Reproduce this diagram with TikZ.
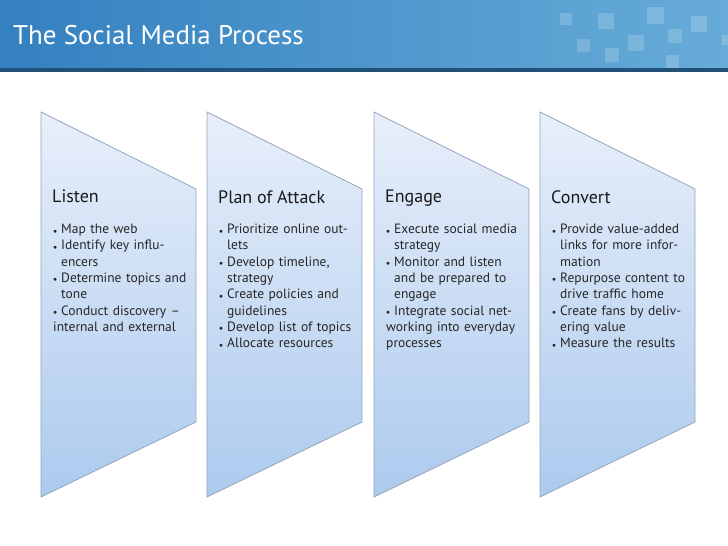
\documentclass[tikz,border=0pt]{standalone}
\usepackage{fontspec}
\setmainfont{PT Sans}
\definecolor{hdL}{RGB}{52,128,192}
\definecolor{hdR}{RGB}{103,172,216}
\definecolor{hdLine}{RGB}{33,80,120}
\definecolor{chTop}{RGB}{232,239,250}
\definecolor{chBot}{RGB}{172,202,238}
\definecolor{chEdge}{RGB}{150,165,185}
\begin{document}
\begin{tikzpicture}[x=1pt,y=-1pt,
  chev/.style={draw=chEdge, line width=0.8pt, top color=chTop, bottom color=chBot},
  head/.style={anchor=north west, font=\fontsize{18}{20}\selectfont, text=black!90, inner sep=0},
  body/.style={anchor=north west, text width=140pt, align=left, inner sep=0, font=\fontsize{13.5}{16.3}\selectfont, text=black!85},
  sq/.style={fill=white, fill opacity=0.18, draw=none}]
\newcommand{\bl}[1]{\par\hangindent=8pt\hangafter=1\noindent\makebox[8pt][l]{\raisebox{0.5pt}{\scriptsize$\bullet$}}#1}
\useasboundingbox (0,0) rectangle (728,546);
\fill[white] (0,0) rectangle (728,546);
\shade[left color=hdL, right color=hdR] (0,0) rectangle (728,68);
\fill[hdLine] (0,68) rectangle (728,72);
\foreach \x/\y/\s in {560/13/12, 598/13/16, 647/7/17, 691/16/16, 577/39/13, 628/35/16, 668/29/14, 605/48/14, 666/55/13, 722/35/10}
  \fill[sq] (\x,\y) rectangle ++(\s,\s);
\node[anchor=west, text=white, font=\fontsize{27}{30}\selectfont, inner sep=0] (title) at (13,35) {The Social Media Process};
\foreach \i/\x in {1/41,2/207,3/374,4/540}{
  \path[chev] (\x,112) -- (\x+155,189) -- (\x+155,422) -- (\x,497) -- cycle;
}
\node[head] (h1) at (52,190) {Listen};
\node[head] (h2) at (218,190) {Plan of Attack};
\node[head] (h3) at (385,190) {Engage};
\node[head] (h4) at (551,190) {Convert};
\node[body] (b1) at (53,217) {\bl{Map the web}\bl{Identify key influencers}\bl{Determine topics and tone}\bl{Conduct discovery – internal and external}};
\node[body] (b2) at (219,217) {\bl{Prioritize online outlets}\bl{Develop timeline, strategy}\bl{Create policies and guidelines}\bl{Develop list of topics}\bl{Allocate resources}};
\node[body] (b3) at (386,217) {\bl{Execute social media strategy}\bl{Monitor and listen and be prepared to engage}\bl{Integrate social networking into everyday processes}};
\node[body] (b4) at (552,217) {\bl{Provide value-added links for more information}\bl{Repurpose content to drive traffic home}\bl{Create fans by delivering value}\bl{Measure the results}};
\end{tikzpicture}
\end{document}
